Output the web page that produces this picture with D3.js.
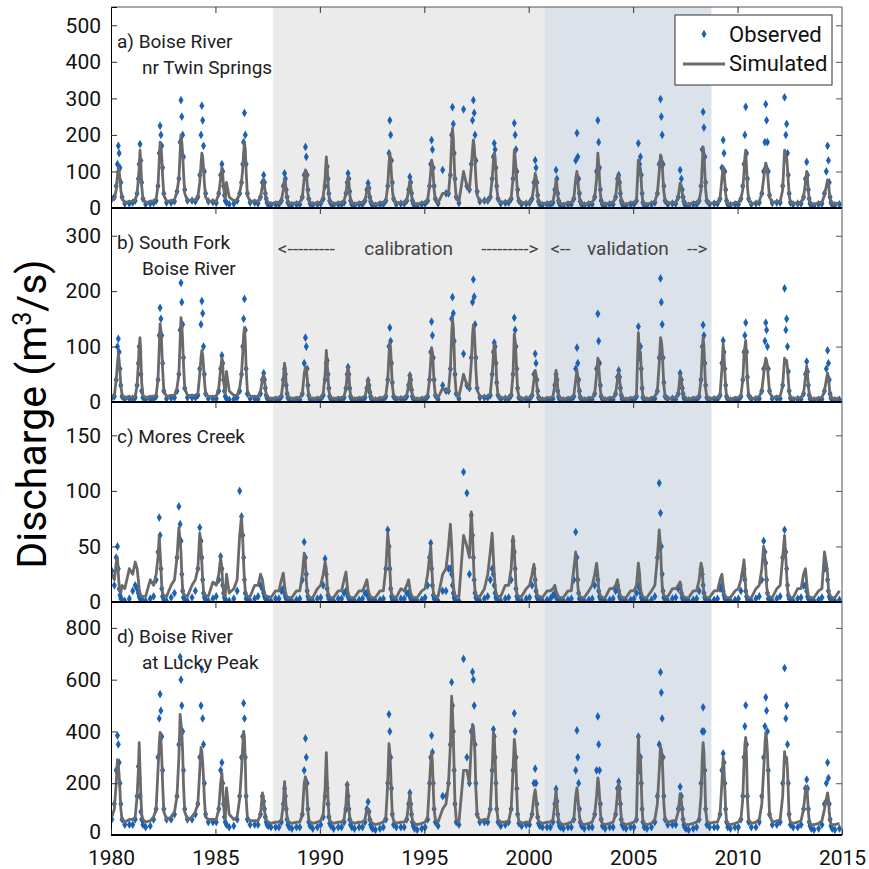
<!DOCTYPE html>
<html>
<head>
<meta charset="utf-8">
<script src="https://cdn.jsdelivr.net/npm/d3@7"></script>
<style>
  body { margin: 0; background: #fff; }
  svg text { font-family: "Roboto", "Liberation Sans", sans-serif; }
</style>
</head>
<body>
<div id="chart"></div>
<script>
// water years, one row per calendar year, values sampled at yearFrac
const years = [1980,1981,1982,1983,1984,1985,1986,1987,1988,1989,1990,1991,1992,1993,1994,1995,1996,1997,1998,1999,2000,2001,2002,2003,2004,2005,2006,2007,2008,2009,2010,2011,2012,2013,2014];
const yearFrac = [0.04,0.16,0.25,0.31,0.35,0.39,0.43,0.47,0.53,0.66,0.88];
const xTicks = [1980,1985,1990,1995,2000,2005,2010,2015];
const calibration = [1987.75, 2000.75];
const validation = [2000.75, 2008.75];

const obsA = [
[25,30,60,120,170,150,110,70,30,12,12],[15,20,40,80,120,175,130,70,25,10,12],[14,20,60,150,225,200,170,110,40,15,15],
[18,45,80,180,295,250,200,140,50,20,20],[18,30,90,200,280,240,170,100,40,18,16],[14,40,90,120,100,60,35,20,15,10,12],
[20,40,70,120,180,260,200,120,40,15,15],[12,30,70,90,70,40,25,15,10,8,10],[10,20,60,95,80,50,30,15,10,8,10],
[10,30,90,167,140,90,50,25,12,8,10],[12,25,60,100,113,80,40,20,12,8,10],[10,15,40,70,95,80,45,20,10,7,10],
[10,20,50,68,55,30,18,12,8,6,10],[10,20,60,150,240,200,130,70,25,10,12],[12,20,50,85,70,40,20,12,8,6,10],
[12,20,60,120,186,160,110,60,25,12,104],[40,40,90,200,276,230,150,80,30,14,270],[60,50,120,240,295,260,200,130,45,18,20],
[20,30,80,140,177,160,110,60,25,12,14],[15,25,80,232,200,160,100,50,20,10,12],[14,25,70,131,110,70,35,18,10,8,10],
[10,15,50,104,80,40,20,12,8,6,10],[10,25,130,205,140,80,40,18,10,7,10],[10,30,100,240,180,110,50,20,10,7,10],
[10,30,80,90,70,40,20,12,8,6,10],[10,20,177,120,140,90,40,15,8,6,10],[15,40,120,298,250,200,120,60,20,10,12],
[12,30,104,80,50,30,18,10,8,6,10],[10,20,60,160,263,220,140,70,20,10,12],[12,25,110,186,150,100,50,20,10,8,10],
[10,25,60,120,200,277,150,80,25,10,12],[15,40,100,180,284,240,180,100,35,14,15],[15,60,303,200,230,150,90,40,15,10,12],
[12,30,80,126,90,50,25,12,8,6,10],[12,40,100,170,130,70,30,15,10,8,10]
];
const simA = [
[22,25,50,90,110,100,80,50,25,15,18],[18,22,40,80,110,158,120,60,25,15,18],[20,25,60,130,180,170,140,90,35,18,20],
[22,45,80,150,200,180,150,100,40,20,22],[22,30,70,120,150,140,110,70,30,18,20],[18,40,80,112,90,60,40,25,70,30,20],
[22,40,70,110,150,180,160,100,35,18,20],[18,30,60,75,60,40,25,18,15,12,15],[15,20,50,80,70,45,28,18,14,12,15],
[15,30,80,104,100,70,40,22,15,12,15],[15,30,80,140,110,70,35,20,15,12,15],[15,20,40,70,85,70,40,20,14,12,15],
[15,20,45,60,50,30,20,15,12,10,15],[15,20,60,120,150,130,90,50,22,14,15],[15,20,50,75,60,35,20,15,12,10,15],
[15,22,60,100,131,120,90,50,22,14,40],[40,40,100,180,218,190,130,70,28,18,100],[60,50,110,160,186,170,130,80,35,18,20],
[20,30,80,130,150,140,100,55,25,15,18],[18,28,80,158,140,110,70,35,18,14,15],[15,25,60,95,85,55,30,18,14,12,15],
[15,18,45,80,65,35,20,15,12,10,15],[15,25,80,100,80,50,28,16,12,10,15],[15,30,80,150,120,80,40,18,12,10,15],
[15,30,80,90,70,40,22,15,12,10,15],[15,20,131,100,110,70,35,16,12,10,15],[18,40,100,145,140,120,80,45,20,14,15],
[15,30,68,60,40,25,18,14,12,10,15],[15,20,50,120,167,150,100,50,18,12,15],[15,25,80,113,100,70,40,18,12,10,15],
[15,25,50,100,140,158,110,60,22,12,15],[18,40,80,110,123,115,100,70,30,15,18],[18,50,158,130,140,110,70,35,15,12,15],
[15,30,70,100,80,45,25,15,12,10,15],[15,35,60,77,70,45,25,15,12,10,15]
];
const obsB = [
[8,10,40,100,114,90,60,30,10,5,6],[6,8,30,70,100,90,50,20,8,4,5],[6,10,40,120,170,150,120,70,20,6,7],
[8,20,50,130,215,180,140,80,25,8,8],[8,12,60,140,182,160,100,50,15,6,6],[6,20,60,84,70,40,20,10,6,4,5],
[8,20,50,100,150,186,130,60,15,6,6],[5,15,40,52,40,25,12,7,5,3,4],[4,10,40,60,50,30,15,8,5,3,4],
[4,15,70,116,100,60,30,12,5,3,4],[5,12,40,70,75,50,25,10,5,3,4],[4,8,25,50,63,50,25,10,5,3,4],
[4,8,25,39,30,18,10,6,4,3,4],[4,10,40,100,134,110,70,35,10,4,5],[5,10,30,48,40,22,10,6,4,3,4],
[5,10,40,90,145,120,80,40,12,5,30],[20,20,60,150,189,160,110,50,15,6,87],[30,25,80,180,221,190,140,80,25,8,8],
[8,12,50,90,107,100,70,35,12,5,6],[6,12,50,152,130,100,60,25,8,4,5],[5,12,50,87,70,40,20,8,5,3,4],
[4,6,30,50,40,20,10,6,4,3,4],[4,10,60,98,70,40,20,8,5,3,4],[4,15,60,159,110,70,30,10,5,3,4],
[4,15,45,57,45,25,12,6,4,3,4],[4,10,136,80,100,60,25,8,5,3,4],[6,20,80,223,180,140,80,35,10,5,6],
[5,15,52,40,25,15,8,5,4,3,4],[4,10,40,100,139,120,70,30,8,4,5],[5,12,70,111,90,60,30,10,5,3,4],
[4,10,40,90,120,143,90,45,12,5,5],[6,20,60,110,143,130,100,60,20,6,6],[6,30,205,130,150,100,55,20,7,4,5],
[5,15,50,73,55,30,12,6,4,3,4],[5,20,60,93,70,40,15,7,4,3,4]
];
const simB = [
[10,12,40,70,87,75,55,30,12,8,10],[8,10,30,70,100,116,80,35,12,8,10],[10,12,40,100,141,130,100,60,20,10,12],
[12,25,50,110,152,140,110,70,25,12,12],[12,15,50,80,93,85,65,40,15,10,10],[10,25,60,80,65,40,25,15,55,20,12],
[12,25,50,90,120,134,110,60,20,10,10],[10,20,40,50,40,25,15,10,8,6,8],[8,12,40,70,55,30,18,10,8,6,8],
[8,15,50,63,60,45,25,12,8,6,8],[8,15,50,93,70,45,22,12,8,6,8],[8,10,25,50,63,50,25,12,8,6,8],
[8,10,25,40,32,20,12,8,6,5,8],[8,12,40,85,107,95,60,30,12,8,8],[8,12,30,50,40,22,12,8,6,5,8],
[8,12,40,75,98,90,65,35,12,8,25],[20,20,60,120,150,135,95,45,15,10,50],[30,25,70,120,139,130,100,60,22,10,10],
[10,15,50,85,105,95,70,35,12,8,8],[8,12,50,123,110,85,50,22,10,6,8],[8,12,40,57,50,30,15,8,6,5,8],
[8,10,30,57,45,25,12,8,6,5,8],[8,12,40,57,45,28,14,8,6,5,8],[8,15,50,79,65,45,22,10,6,5,8],
[8,15,40,55,42,25,12,8,6,5,8],[8,12,125,80,90,55,25,10,6,5,8],[10,20,70,116,110,95,60,30,10,6,8],
[8,15,50,40,25,15,10,8,6,5,8],[8,12,40,90,116,100,60,25,8,6,8],[8,12,60,105,85,55,28,10,6,5,8],
[8,12,40,85,100,111,80,40,12,6,8],[10,20,50,70,79,75,65,45,18,8,10],[10,30,79,70,75,60,40,18,8,6,8],
[8,15,45,65,50,30,14,8,6,5,8],[8,20,40,52,45,28,12,8,6,5,8]
];
const obsC = [
[28,15,40,50,30,12,6,3,2,1,3],[10,15,12,8,5,3,2,1,1,1,3],[5,20,45,76,60,30,12,5,2,1,4],
[8,40,86,70,55,25,10,4,2,1,4],[10,30,67,55,40,20,8,4,2,1,3],[5,20,41,30,15,8,4,2,1,1,3],
[10,100,77,60,40,20,8,3,2,1,3],[5,15,12,8,5,3,2,1,1,1,3],[3,10,12,8,5,3,2,1,1,1,2],
[3,20,54,40,25,10,5,2,1,1,3],[4,15,39,25,12,6,3,2,1,1,3],[3,8,10,8,5,3,2,1,1,1,2],
[3,8,8,5,3,2,1,1,1,1,2],[3,30,65,50,30,12,5,2,1,1,3],[3,8,8,5,3,2,1,1,1,1,2],
[4,15,40,53,30,15,6,3,2,1,10],[10,30,30,25,15,8,4,2,1,1,117],[98,25,78,60,40,20,8,4,2,1,3],
[5,20,30,25,15,8,4,2,1,1,3],[4,20,55,45,30,12,5,2,1,1,3],[4,15,30,20,10,5,3,2,1,1,2],
[3,6,8,5,3,2,1,1,1,1,2],[3,20,63,40,20,8,3,2,1,1,2],[3,15,25,20,10,5,3,2,1,1,2],
[3,10,15,10,5,3,2,1,1,1,2],[3,8,15,12,8,4,2,1,1,1,2],[5,40,107,80,50,25,10,4,2,1,3],
[4,12,15,8,4,2,1,1,1,1,2],[3,10,30,25,15,8,4,2,1,1,2],[3,12,15,10,6,3,2,1,1,1,2],
[3,10,25,30,20,10,5,2,1,1,3],[5,20,55,45,35,20,8,3,2,1,3],[5,40,65,45,30,15,6,3,2,1,3],
[4,15,15,10,5,3,2,1,1,1,2],[4,30,30,20,10,5,3,2,1,1,2]
];
const simC = [
[25,20,35,40,25,15,10,8,15,12,30],[25,36,30,20,12,8,6,5,5,5,20],[15,25,40,59,45,30,15,8,6,5,15],
[20,40,67,55,45,25,12,8,6,5,15],[20,30,62,50,35,20,10,7,6,5,18],[15,25,40,30,15,10,6,5,25,8,12],
[20,60,77,55,35,20,10,7,5,5,15],[15,25,20,12,8,6,5,5,5,4,10],[10,20,26,15,10,6,5,4,4,4,10],
[10,25,44,35,20,10,6,5,4,4,12],[15,25,36,30,15,8,6,5,4,4,10],[10,20,27,15,8,6,5,4,4,4,10],
[10,15,20,12,8,6,5,4,4,4,10],[10,30,62,50,30,15,8,6,5,4,12],[10,15,20,12,8,6,5,4,4,4,10],
[12,25,40,50,35,20,10,6,5,5,25],[30,50,70,50,30,15,10,6,5,5,60],[50,40,81,60,40,20,10,7,5,5,12],
[25,45,62,40,25,15,8,6,5,5,15],[15,30,59,45,30,15,8,6,5,5,12],[15,25,34,20,12,8,6,5,5,4,10],
[10,12,15,10,8,6,5,4,4,4,10],[10,30,45,30,15,8,6,5,4,4,10],[15,25,35,25,12,8,6,5,4,4,12],
[12,15,20,12,8,6,5,4,4,4,10],[10,15,35,25,12,8,6,5,4,4,10],[15,40,65,50,30,15,8,6,5,5,12],
[12,15,18,10,7,5,5,4,4,4,10],[10,20,35,30,15,8,6,5,4,4,10],[10,20,25,15,8,6,5,4,4,4,10],
[12,20,30,38,25,12,7,5,4,4,12],[15,30,50,40,30,15,8,6,5,4,12],[15,40,60,40,25,12,7,5,4,4,12],
[12,25,30,18,10,6,5,4,4,4,10],[12,45,35,25,12,8,6,5,4,4,10]
];
const obsD = [
[60,120,250,384,350,280,200,120,60,40,40],[40,60,150,265,220,150,90,60,40,30,35],[60,100,300,450,544,480,380,250,100,60,60],
[80,150,350,688,600,500,400,250,100,60,60],[80,120,300,500,640,450,350,200,80,50,50],[50,100,250,280,200,120,70,50,40,30,35],
[60,150,300,380,509,450,300,150,60,40,40],[40,80,150,130,100,70,50,40,35,30,30],[30,50,120,180,150,100,60,40,30,25,30],
[30,80,250,373,300,200,100,50,35,25,30],[40,70,150,200,180,120,70,45,35,25,30],[30,50,100,194,150,100,60,40,30,25,30],
[30,50,100,128,90,60,40,30,25,20,25],[30,60,200,466,400,300,180,80,40,30,30],[30,60,120,163,120,80,50,35,25,20,25],
[30,60,200,300,384,320,200,100,50,35,150],[150,200,350,590,500,400,250,120,50,40,680],[300,200,400,630,600,500,350,200,80,50,50],
[50,100,250,408,380,300,200,100,50,35,40],[50,100,250,470,400,300,180,80,45,35,40],[40,80,200,256,200,120,70,45,35,30,30],
[30,50,120,178,130,80,50,35,30,25,30],[30,60,250,404,300,200,100,50,35,25,30],[30,80,250,458,350,250,120,60,35,25,30],
[30,80,180,206,180,120,60,40,30,25,30],[30,60,380,250,300,200,100,50,30,25,30],[50,150,350,629,550,450,300,150,60,40,40],
[40,100,186,150,100,60,40,30,25,20,25],[30,60,200,400,493,400,250,100,40,30,30],[30,80,250,315,280,200,100,50,30,25,30],
[30,60,150,300,420,501,350,150,50,30,30],[50,150,300,420,532,480,400,250,80,40,40],[50,200,645,450,500,350,200,80,40,30,30],
[40,100,180,214,180,100,50,35,25,20,25],[40,120,200,280,220,120,60,35,25,20,25]
];
const simD = [
[70,100,200,291,270,230,170,100,60,50,60],[60,70,150,250,357,250,150,80,60,50,55],[70,100,250,350,396,370,300,200,90,60,70],
[90,150,300,466,430,400,320,200,90,60,70],[90,120,250,338,320,280,220,140,70,60,60],[60,100,200,240,180,120,80,60,182,80,60],
[70,140,250,350,400,380,280,140,70,55,55],[55,80,163,130,100,70,60,55,50,45,50],[50,60,120,206,150,100,70,55,50,45,50],
[50,80,200,225,210,150,90,60,50,45,50],[55,80,180,318,220,140,80,60,50,45,50],[50,60,120,200,160,100,70,55,50,45,50],
[50,60,100,100,80,60,55,50,45,40,45],[50,70,200,353,320,250,150,80,55,45,50],[50,60,120,160,120,80,60,50,45,40,45],
[50,70,200,280,318,280,180,100,60,50,100],[120,200,350,536,480,380,250,120,60,50,250],[250,200,350,427,420,380,300,180,80,55,60],
[60,100,250,396,380,300,200,100,60,50,50],[55,100,250,369,340,270,160,80,55,45,50],[50,80,150,175,150,100,70,55,50,45,50],
[50,60,120,175,130,80,60,50,45,40,45],[50,60,150,182,150,110,70,55,45,40,45],[50,80,150,221,200,150,90,55,45,40,45],
[50,80,160,200,170,110,70,50,45,40,45],[50,60,380,250,300,200,100,55,45,40,45],[60,120,250,342,330,300,220,120,60,50,55],
[55,90,160,130,90,60,50,45,40,40,45],[50,60,150,300,357,320,220,100,55,45,50],[50,80,200,300,260,180,100,55,45,40,45],
[50,60,140,280,350,377,300,140,60,45,50],[60,120,250,350,396,370,320,220,80,50,55],[60,150,322,280,300,250,160,70,50,45,50],
[55,100,170,186,150,90,55,45,40,40,45],[55,100,140,163,140,90,55,45,40,40,45]
];

const yTicksA = [0,100,200,300,400,500];
const yTicksB = [0,100,200,300];
const yTicksC = [0,50,100,150];
const yTicksD = [0,200,400,600,800];

const panels = [
  { obs: obsA, sim: simA, max: 550, ticks: yTicksA, top: 7,   bottom: 208, label: ["a) Boise River", "nr Twin Springs"] },
  { obs: obsB, sim: simB, max: 350, ticks: yTicksB, top: 208, bottom: 402, label: ["b) South Fork", "Boise River"] },
  { obs: obsC, sim: simC, max: 180, ticks: yTicksC, top: 402, bottom: 602, label: ["c) Mores Creek"] },
  { obs: obsD, sim: simD, max: 900, ticks: yTicksD, top: 602, bottom: 835, label: ["d) Boise River", "at Lucky Peak"] }
];

const W = 869, H = 869;
const left = 111, right = 842;
const obsColor = "#1b62b5", simColor = "#6a6a6a";

const svg = d3.select("#chart").append("svg").attr("width", W).attr("height", H);

const x = d3.scaleLinear().domain([1980, 2015]).range([left, right]);

// calibration / validation shading across all panels
const top0 = panels[0].top, bottom0 = panels[3].bottom;
svg.append("rect").attr("x", x(calibration[0])).attr("y", top0)
  .attr("width", x(calibration[1]) - x(calibration[0])).attr("height", bottom0 - top0).attr("fill", "#ebebeb");
svg.append("rect").attr("x", x(validation[0])).attr("y", top0)
  .attr("width", x(validation[1]) - x(validation[0])).attr("height", bottom0 - top0).attr("fill", "#dbe2ea");

const flatten = rows => years.flatMap((yr, i) => yearFrac.map((f, j) => ({ t: yr + f, v: rows[i][j] })));

panels.forEach((p, k) => {
  const y = d3.scaleLinear().domain([0, p.max]).range([p.bottom, p.top]);
  const g = svg.append("g");
  const clipId = "clip" + k;
  svg.append("clipPath").attr("id", clipId).append("rect")
    .attr("x", left).attr("y", p.top).attr("width", right - left).attr("height", p.bottom - p.top);

  const data = g.append("g").attr("clip-path", `url(#${clipId})`);
  data.selectAll("path.obs").data(flatten(p.obs)).enter().append("path")
    .attr("class", "obs")
    .attr("d", d3.symbol(d3.symbolDiamond, 22))
    .attr("transform", d => `translate(${x(d.t)},${y(d.v)})`)
    .attr("fill", obsColor);

  const line = d3.line().x(d => x(d.t)).y(d => y(d.v));
  data.append("path").datum(flatten(p.sim))
    .attr("d", line).attr("fill", "none").attr("stroke", simColor)
    .attr("stroke-width", 2.8).attr("stroke-linejoin", "round");

  // frame
  g.append("line").attr("x1", right).attr("x2", right).attr("y1", p.top).attr("y2", p.bottom)
    .attr("stroke", "#555").attr("stroke-width", 1);
  if (k === 0) g.append("line").attr("x1", left).attr("x2", right).attr("y1", p.top).attr("y2", p.top)
    .attr("stroke", "#555").attr("stroke-width", 1);

  // left axis with inward ticks
  const yAxis = d3.axisLeft(y).tickValues(p.ticks).tickSize(-6).tickPadding(10).tickFormat(d3.format("d"));
  const ya = g.append("g").attr("transform", `translate(${left},0)`).call(yAxis);
  ya.select(".domain").attr("stroke", "#000");
  ya.selectAll(".tick line").attr("stroke", "#333");
  ya.selectAll("text").attr("font-size", 21).attr("fill", "#111");
  ya.selectAll(".tick").filter(d => d === 0).select("line").remove();
  if (k === 3) ya.selectAll(".tick").filter(d => d === 0).select("text").attr("dy", "0.18em");

  // right inward ticks
  const yr = g.append("g").attr("transform", `translate(${right},0)`)
    .call(d3.axisRight(y).tickValues(p.ticks.filter(d => d > 0)).tickSize(-6).tickFormat(""));
  yr.select(".domain").remove();
  yr.selectAll(".tick line").attr("stroke", "#555");

  // top / bottom inward x ticks
  const xt = g.append("g").attr("transform", `translate(0,${p.top})`)
    .call(d3.axisTop(x).tickValues(xTicks.slice(1, -1)).tickSize(-6).tickFormat(""));
  xt.select(".domain").remove();
  xt.selectAll(".tick line").attr("stroke", "#333");
  const xb = g.append("g").attr("transform", `translate(0,${p.bottom})`)
    .call(d3.axisBottom(x).tickValues(k === 3 ? xTicks : xTicks.slice(1, -1)).tickSize(k === 3 ? -6 : 0).tickPadding(15).tickFormat(k === 3 ? d3.format("d") : ""));
  xb.select(".domain").remove();
  xb.selectAll(".tick line").attr("stroke", "#333");
  xb.selectAll("text").attr("font-size", 21).attr("fill", "#111");

  // thick zero line
  g.append("line").attr("x1", left).attr("x2", right).attr("y1", p.bottom).attr("y2", p.bottom)
    .attr("stroke", "#000").attr("stroke-width", 2.2);

  // panel label
  g.append("text").attr("x", left + 6).attr("y", p.top + 41).attr("font-size", 19).attr("fill", "#222").text(p.label[0]);
  if (p.label[1]) g.append("text").attr("x", left + 31).attr("y", p.top + 67).attr("font-size", 19).attr("fill", "#222").text(p.label[1]);
});

// calibration / validation annotation in panel b
const annY = 255;
const ann = svg.append("g").attr("font-size", 19).attr("fill", "#444");
ann.append("text").attr("x", x(calibration[0]) + 5).attr("y", annY).text("<---------");
ann.append("text").attr("x", (x(calibration[0]) + x(calibration[1])) / 2).attr("y", annY).attr("text-anchor", "middle").text("calibration");
ann.append("text").attr("x", x(calibration[1]) - 6).attr("y", annY).attr("text-anchor", "end").text("--------->");
ann.append("text").attr("x", x(validation[0]) + 6).attr("y", annY).text("<--");
ann.append("text").attr("x", (x(validation[0]) + x(validation[1])) / 2).attr("y", annY).attr("text-anchor", "middle").text("validation");
ann.append("text").attr("x", x(validation[1]) - 4).attr("y", annY).attr("text-anchor", "end").text("-->");

// legend
const lg = svg.append("g");
lg.append("rect").attr("x", 675).attr("y", 15).attr("width", 157).attr("height", 70)
  .attr("fill", "#fff").attr("stroke", "#333").attr("stroke-width", 1);
lg.append("path").attr("d", d3.symbol(d3.symbolDiamond, 22)).attr("transform", "translate(704,34)").attr("fill", obsColor);
lg.append("text").attr("x", 729).attr("y", 42).attr("font-size", 22).attr("fill", "#111").text("Observed");
lg.append("line").attr("x1", 683).attr("x2", 725).attr("y1", 64).attr("y2", 64).attr("stroke", simColor).attr("stroke-width", 2.8);
lg.append("text").attr("x", 729).attr("y", 71).attr("font-size", 22).attr("fill", "#111").text("Simulated");

// y title
const yt = svg.append("text").attr("transform", "translate(46,414) rotate(-90)")
  .attr("text-anchor", "middle").attr("font-size", 41).attr("fill", "#000");
yt.append("tspan").text("Discharge (m");
yt.append("tspan").attr("font-size", 25).attr("dy", -15).text("3");
yt.append("tspan").attr("dy", 15).text("/s)");
</script>
</body>
</html>
